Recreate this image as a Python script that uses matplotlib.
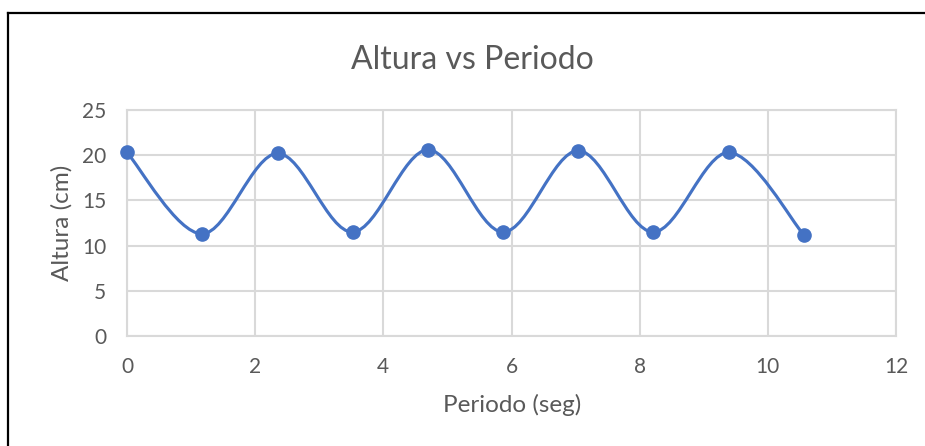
import numpy as np
import matplotlib
matplotlib.use("Agg")
import matplotlib.pyplot as plt
from matplotlib.path import Path
from matplotlib.patches import PathPatch
from matplotlib.lines import Line2D

# Measured data: period (s) and height (cm)
periodo = [0.0, 1.17, 2.35, 3.52, 4.70, 5.87, 7.04, 8.21, 9.39, 10.56]
altura = [20.3, 11.3, 20.2, 11.5, 20.6, 11.5, 20.5, 11.5, 20.3, 11.2]

x_ticks = [0, 2, 4, 6, 8, 10, 12]
y_ticks = [0, 5, 10, 15, 20, 25]

titulo = "Altura vs Periodo"
etiqueta_x = "Periodo (seg)"
etiqueta_y = "Altura (cm)"

AZUL = "#4472C4"
GRIS_TEXTO = "#595959"
GRIS_REJILLA = "#D9D9D9"
FUENTE = ["Lato", "DejaVu Sans"]

plt.rcParams["font.family"] = FUENTE

W, H = 925, 446


def curva_suave(xs, ys):
    """Cubic Bezier path through every point (Catmull-Rom style smoothing)."""
    pts = np.column_stack([xs, ys]).astype(float)
    n = len(pts)
    verts = [pts[0]]
    codes = [Path.MOVETO]
    for i in range(n - 1):
        p0 = pts[i - 1] if i > 0 else pts[i]
        p1 = pts[i]
        p2 = pts[i + 1]
        p3 = pts[i + 2] if i + 2 < n else pts[i + 1]
        c1 = p1 + (p2 - p0) / 6.0
        c2 = p2 - (p3 - p1) / 6.0
        verts += [c1, c2, p2]
        codes += [Path.CURVE4] * 3
    return Path(verts, codes)


fig = plt.figure(figsize=(W / 100, H / 100), dpi=100)
ax = fig.add_axes([127 / W, 1 - 336 / H, (896 - 127) / W, (336 - 110) / H])

ax.set_xlim(0, 12)
ax.set_ylim(0, 25)
ax.set_xticks(x_ticks)
ax.set_yticks(y_ticks)

ax.grid(True, color=GRIS_REJILLA, linewidth=1.5)
ax.set_axisbelow(True)
for s in ax.spines.values():
    s.set_color(GRIS_REJILLA)
    s.set_linewidth(1.5)

ax.tick_params(axis="both", length=0, labelsize=15, labelcolor=GRIS_TEXTO)
ax.tick_params(axis="x", pad=15)
ax.tick_params(axis="y", pad=15)

ax.add_patch(PathPatch(curva_suave(periodo, altura), facecolor="none",
                       edgecolor=AZUL, linewidth=2.25, zorder=3,
                       capstyle="round", joinstyle="round"))
ax.plot(periodo, altura, linestyle="none", marker="o", markersize=9.5,
        color=AZUL, zorder=4, clip_on=False)

fig.text(472 / W, 1 - 60 / H, titulo, ha="center", va="center",
         fontsize=23, color=GRIS_TEXTO)
fig.text(512 / W, 1 - 405 / H, etiqueta_x, ha="center", va="center",
         fontsize=17.5, color=GRIS_TEXTO)
fig.text(62 / W, 1 - 223 / H, etiqueta_y, ha="center", va="center",
         rotation=90, fontsize=17.5, color=GRIS_TEXTO)

# Chart frame: top and left edges
fig.add_artist(Line2D([8 / W, 1.0], [1 - 13 / H, 1 - 13 / H],
                      transform=fig.transFigure, color="black", linewidth=1.6))
fig.add_artist(Line2D([8 / W, 8 / W], [0.0, 1 - 13 / H],
                      transform=fig.transFigure, color="black", linewidth=1.6))

fig.savefig("out.png", dpi=100, facecolor="white")
